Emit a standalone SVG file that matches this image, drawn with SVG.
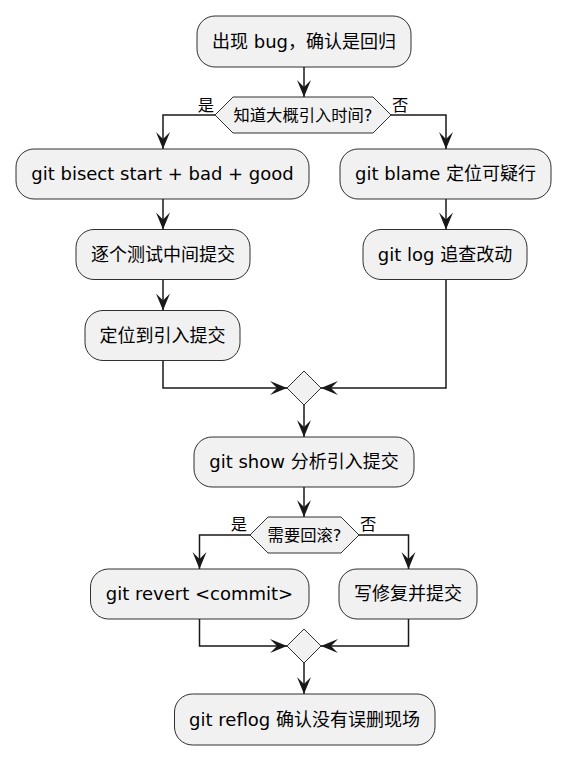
<svg xmlns="http://www.w3.org/2000/svg" width="564" height="760" viewBox="0 0 564 760">
<style>
.box{fill:#F1F1F1;stroke:#181818;stroke-width:0.9}
.t{font-family:"DejaVu Sans","Noto Sans CJK SC",sans-serif;font-size:18px;fill:#000;text-anchor:middle}
.d{font-family:"DejaVu Sans","Noto Sans CJK SC",sans-serif;font-size:16.3px;fill:#000;text-anchor:middle}
.l{font-family:"DejaVu Sans","Noto Sans CJK SC",sans-serif;font-size:16.3px;fill:#000}
.c{fill:none;stroke:#181818;stroke-width:1.5}
</style>
<defs>
<marker id="ar" markerUnits="userSpaceOnUse" viewBox="-18 -8 19 16" refX="0" refY="0" markerWidth="19" markerHeight="16" orient="auto">
<path d="M0,0 L-17,-7 L-10,0 L-17,7 Z" fill="#181818"/>
</marker>
</defs>
<rect width="564" height="760" fill="#FFFFFF"/>
<g id="connectors">
<path class="c" d="M304,67 V97" marker-end="url(#ar)"/>
<path class="c" d="M215,115 H163 V149" marker-end="url(#ar)"/>
<path class="c" d="M391,115 H446 V149" marker-end="url(#ar)"/>
<path class="c" d="M163,199 V229.5" marker-end="url(#ar)"/>
<path class="c" d="M163,279.5 V310.5" marker-end="url(#ar)"/>
<path class="c" d="M446,199 V229.5" marker-end="url(#ar)"/>
<path class="c" d="M163,360.5 V388 H287" marker-end="url(#ar)"/>
<path class="c" d="M446,279.5 V388 H321" marker-end="url(#ar)"/>
<path class="c" d="M304,405 V437" marker-end="url(#ar)"/>
<path class="c" d="M304,487 V517" marker-end="url(#ar)"/>
<path class="c" d="M250,535 H199.5 V569" marker-end="url(#ar)"/>
<path class="c" d="M359,535 H408.5 V569" marker-end="url(#ar)"/>
<path class="c" d="M199.5,619 V646 H287" marker-end="url(#ar)"/>
<path class="c" d="M408.5,619 V646 H321" marker-end="url(#ar)"/>
<path class="c" d="M304,663 V694" marker-end="url(#ar)"/>
<text class="l" x="214" y="111" text-anchor="end">是</text>
<text class="l" x="392" y="111">否</text>
<text class="l" x="247" y="530" text-anchor="end">是</text>
<text class="l" x="360" y="530">否</text>
</g>
<g id="n1"><rect class="box" x="197" y="16" width="214" height="51" rx="18"/><text class="t" x="304" y="48">出现 bug，确认是回归</text></g>
<g id="d1"><polygon class="box" points="215,115 233,97 373,97 391,115 373,133 233,133"/><text class="d" x="303" y="121">知道大概引入时间?</text></g>
<g id="n2"><rect class="box" x="16" y="149" width="293" height="50" rx="18"/><text class="t" x="162.5" y="180">git bisect start + bad + good</text></g>
<g id="n3"><rect class="box" x="340" y="149" width="211" height="50" rx="18"/><text class="t" x="445.5" y="180">git blame 定位可疑行</text></g>
<g id="n4"><rect class="box" x="76" y="229.5" width="174" height="50" rx="18"/><text class="t" x="163" y="260.5">逐个测试中间提交</text></g>
<g id="n5"><rect class="box" x="85" y="310.5" width="155" height="50" rx="18"/><text class="t" x="162.5" y="341.5">定位到引入提交</text></g>
<g id="n6"><rect class="box" x="363" y="229.5" width="164" height="50" rx="18"/><text class="t" x="445" y="260.5">git log 追查改动</text></g>
<g id="m1"><polygon class="box" points="287,388 304,371 321,388 304,405"/></g>
<g id="n7"><rect class="box" x="194" y="437" width="220" height="50" rx="18"/><text class="t" x="304" y="468">git show 分析引入提交</text></g>
<g id="d2"><polygon class="box" points="250,535 268,517 341,517 359,535 341,553 268,553"/><text class="d" x="304.5" y="541">需要回滚?</text></g>
<g id="n8"><rect class="box" x="90.5" y="569" width="218.5" height="50" rx="18"/><text class="t" x="199.5" y="600">git revert &lt;commit&gt;</text></g>
<g id="n9"><rect class="box" x="339" y="569" width="138" height="50" rx="18"/><text class="t" x="408" y="600">写修复并提交</text></g>
<g id="m2"><polygon class="box" points="287,646 304,629 321,646 304,663"/></g>
<g id="n10"><rect class="box" x="174.5" y="694" width="260.5" height="51" rx="18"/><text class="t" x="304.5" y="726">git reflog 确认没有误删现场</text></g>
</svg>
